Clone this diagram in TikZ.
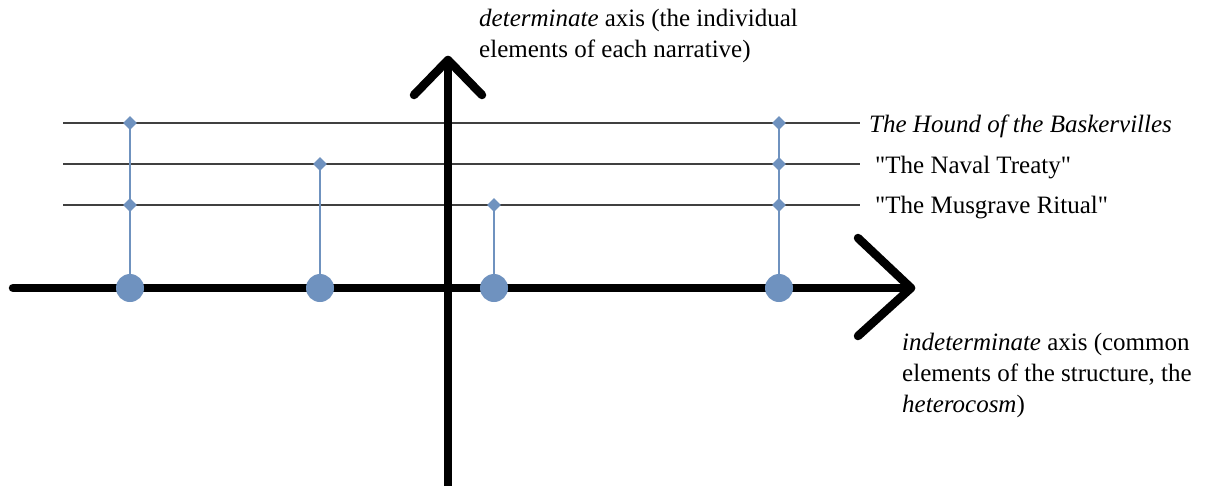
\documentclass[tikz,border=0pt]{standalone}
\usepackage{fontspec}
\setmainfont{Liberation Serif}
\usetikzlibrary{shapes.geometric,backgrounds}
\definecolor{dotblue}{RGB}{111,146,191}
\definecolor{linegray}{RGB}{64,64,64}
\begin{document}
\begin{tikzpicture}[x=1pt,y=-1pt,
  axisline/.style={line width=8.5pt,line cap=round,line join=round,black},
  storyline/.style={line width=1.6pt,linegray},
  stem/.style={line width=1.4pt,dotblue},
  bigdot/.style={circle,fill=dotblue,minimum size=28pt,inner sep=0pt},
  smalldot/.style={diamond,fill=dotblue,minimum size=14pt,inner sep=0pt},
  lbl/.style={font=\fontsize{25}{31}\selectfont,inner sep=0pt,anchor=base west},
  blocklbl/.style={font=\fontsize{25}{31}\selectfont,inner sep=0pt,align=left,anchor=north west}]
\useasboundingbox (0,0) rectangle (1210,485);
% axes
\coordinate (hstart) at (13,288);
\coordinate (htip) at (911,288);
\coordinate (harm1) at (858,238);
\coordinate (harm2) at (858,336);
\coordinate (vstart) at (448,492);
\coordinate (vtip) at (448,60);
\coordinate (varm1) at (414,95);
\coordinate (varm2) at (482,95);
\draw[axisline] (hstart) -- (htip);
\draw[axisline] (harm1) -- (htip) -- (harm2);
\draw[axisline] (vstart) -- (vtip);
\draw[axisline] (varm1) -- (vtip) -- (varm2);
% story lines end points
\coordinate (l1a) at (63,123);
\coordinate (l1b) at (860,123);
\coordinate (l2a) at (63,164);
\coordinate (l2b) at (860,164);
\coordinate (l3a) at (63,205);
\coordinate (l3b) at (860,205);
% markers
\node[bigdot] (c1) at (130,288) {};
\node[bigdot] (c2) at (320,288) {};
\node[bigdot] (c3) at (494,288) {};
\node[bigdot] (c4) at (779,288) {};
\node[smalldot] (d1a) at (130,123) {};
\node[smalldot] (d1c) at (130,205) {};
\node[smalldot] (d2b) at (320,164) {};
\node[smalldot] (d3c) at (494,205) {};
\node[smalldot] (d4a) at (779,123) {};
\node[smalldot] (d4b) at (779,164) {};
\node[smalldot] (d4c) at (779,205) {};
\begin{scope}[on background layer]
\draw[storyline] (l1a) -- (l1b);
\draw[storyline] (l2a) -- (l2b);
\draw[storyline] (l3a) -- (l3b);
\draw[stem] (c1.center) -- (d1a.center);
\draw[stem] (c2.center) -- (d2b.center);
\draw[stem] (c3.center) -- (d3c.center);
\draw[stem] (c4.center) -- (d4a.center);
\end{scope}
% labels
\node[lbl] (hound) at (869,132) {\textit{The Hound of the Baskervilles}};
\node[lbl] (naval) at (875,173) {\textquotedbl The Naval Treaty\textquotedbl};
\node[lbl] (musgrave) at (875,213) {\textquotedbl The Musgrave Ritual\textquotedbl};
\node[blocklbl] (dettext) at (479,9) {\textit{determinate} axis (the individual\\elements of each narrative)};
\node[blocklbl] (indettext) at (902,333) {\textit{indeterminate} axis (common\\elements of the structure, the\\\textit{heterocosm})};
\end{tikzpicture}
\end{document}
